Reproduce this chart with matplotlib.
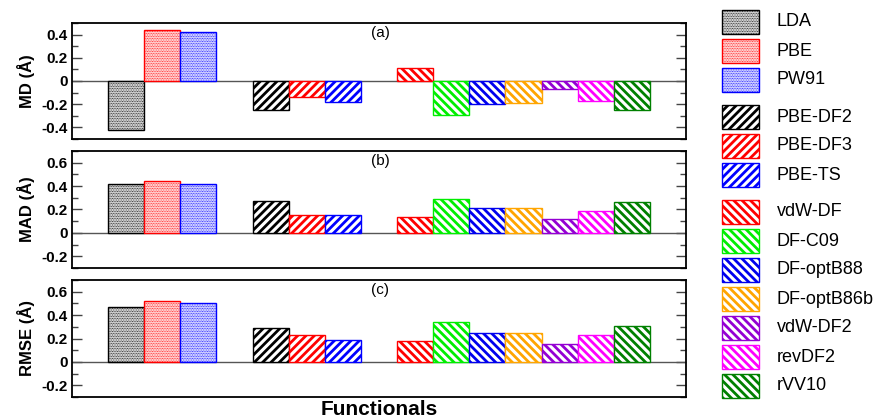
import matplotlib
matplotlib.use("Agg")
import matplotlib.pyplot as plt
from matplotlib.patches import Rectangle
from matplotlib.ticker import MultipleLocator

plt.rcParams['font.family'] = ['Liberation Sans', 'DejaVu Sans']

functionals = ["LDA", "PBE", "PW91", "PBE-DF2", "PBE-DF3", "PBE-TS",
               "vdW-DF", "DF-C09", "DF-optB88", "DF-optB86b", "vdW-DF2", "revDF2", "rVV10"]
groups = [0, 0, 0, 1, 1, 1, 2, 2, 2, 2, 2, 2, 2]
colors = ["black", "#ff0000", "#0000ff", "black", "#ff0000", "#0000ff",
          "#ff0000", "#00ee00", "#0000ee", "#ffa500", "#9400d3", "#ff00ff", "#008000"]
hatches = ["..........", "..........", "..........", "////", "////", "////",
           "\\\\\\\\", "\\\\\\\\", "\\\\\\\\", "\\\\\\\\", "\\\\\\\\", "\\\\\\\\", "\\\\\\\\"]

md = [-0.42, 0.44, 0.42, -0.25, -0.14, -0.18, 0.11, -0.29, -0.20, -0.19, -0.07, -0.17, -0.25]
mad = [0.42, 0.44, 0.42, 0.27, 0.15, 0.15, 0.14, 0.29, 0.21, 0.21, 0.12, 0.19, 0.26]
rmse = [0.47, 0.52, 0.50, 0.29, 0.23, 0.19, 0.18, 0.34, 0.25, 0.25, 0.15, 0.23, 0.31]

panels = [
    ("MD (Å)", md, "(a)", (-0.5, 0.5), [0.4, 0.2, 0, -0.2, -0.4], ["0.4", "0.2", "0", "-0.2", "-0.4"]),
    ("MAD (Å)", mad, "(b)", (-0.3, 0.7), [0.6, 0.4, 0.2, 0, -0.2], ["0.6", "0.4", "0.2", "0", "-0.2"]),
    ("RMSE (Å)", rmse, "(c)", (-0.3, 0.7), [0.6, 0.4, 0.2, 0, -0.2], ["0.6", "0.4", "0.2", "0", "-0.2"]),
]

# positions: one gap between groups
positions = [i + 1 + groups[i] for i in range(len(functionals))]

W, H = 875, 420
fig = plt.figure(figsize=(W / 100, H / 100), dpi=100)

ax_boxes = [(23, 139), (151, 268), (280, 397)]
left_px, right_px = 72, 686


def hatch_lw(h):
    return 0.6 if '.' in h else 2.0


def add_bar(ax, x, y, c, h, w=1.0):
    lw_h = hatch_lw(h)
    with plt.rc_context({'hatch.linewidth': lw_h}):
        b = ax.bar(x, y, width=w, color='white', edgecolor=c, hatch=h, linewidth=1.0, zorder=3)
    for p in b.patches:
        try:
            p.set_hatch_linewidth(lw_h)
        except Exception:
            pass
    return b


for (ylab, vals, tag, ylim, yt, ytl), (top, bot) in zip(panels, ax_boxes):
    ax = fig.add_axes([left_px / W, 1 - bot / H, (right_px - left_px) / W, (bot - top) / H])
    for x, v, c, h in zip(positions, vals, colors, hatches):
        add_bar(ax, x, v, c, h)
    ax.axhline(0, color='#555555', lw=1.0, zorder=2)
    ax.set_xlim(-0.5, 16.5)
    ax.set_ylim(*ylim)
    ax.set_xticks([])
    ax.set_yticks(yt)
    ax.set_yticklabels(ytl, fontsize=11, fontweight='bold')
    ax.yaxis.set_minor_locator(MultipleLocator(0.1))
    ax.tick_params(axis='y', which='major', direction='in', length=7, width=1.0,
                   color='#444444', right=True, pad=3)
    ax.tick_params(axis='y', which='minor', direction='in', length=4, width=1.0,
                   color='#444444', right=True)
    for s in ax.spines.values():
        s.set_linewidth(1.3)
    ax.set_ylabel(ylab, fontsize=12, fontweight='bold', labelpad=5)
    ax.text(0.502, 0.915, tag, transform=ax.transAxes, ha='center', va='center', fontsize=11)
    last_ax = ax

last_ax.set_xlabel("Functionals", fontsize=15, fontweight='bold', labelpad=2)

# legend drawn in its own axes (pixel coordinates)
lax = fig.add_axes([0, 0, 1, 1])
lax.set_xlim(0, W)
lax.set_ylim(H, 0)
lax.axis('off')
for i, (name, c, h) in enumerate(zip(functionals, colors, hatches)):
    yc = 22 + 29 * i + 8 * groups[i]
    lw_h = hatch_lw(h)
    with plt.rc_context({'hatch.linewidth': lw_h}):
        r = Rectangle((722, yc - 12), 37, 24, facecolor='white', edgecolor=c, hatch=h, linewidth=1.0)
    try:
        r.set_hatch_linewidth(lw_h)
    except Exception:
        pass
    lax.add_patch(r)
    lax.text(777, yc, name, fontsize=13, va='center', ha='left')

fig.savefig("out.png", dpi=100)
